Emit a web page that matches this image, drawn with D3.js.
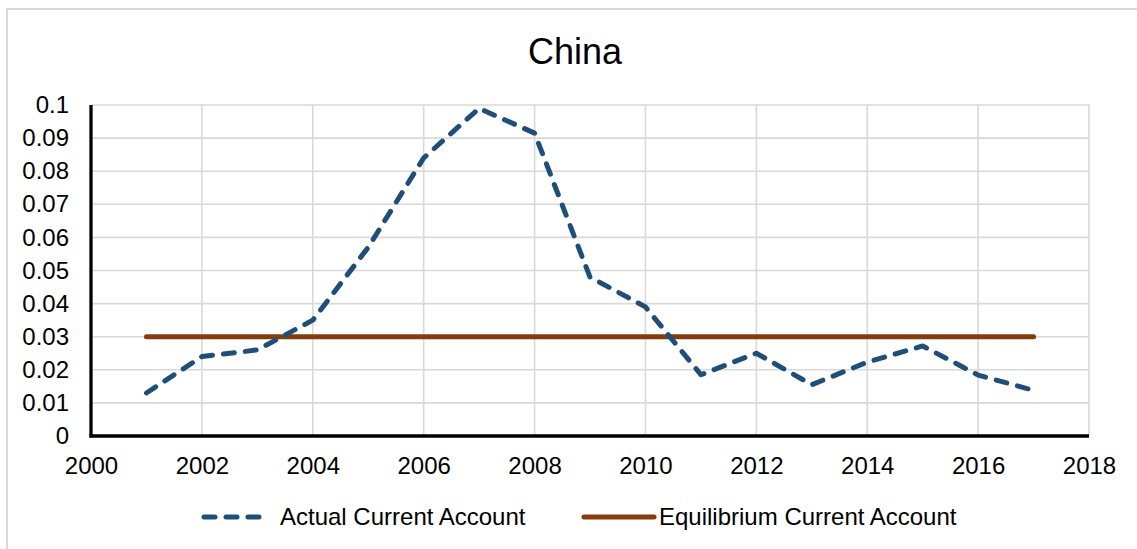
<!DOCTYPE html>
<html>
<head>
<meta charset="utf-8">
<script src="https://cdn.jsdelivr.net/npm/d3@7/dist/d3.min.js"></script>
<style>
  html, body { margin: 0; padding: 0; background: #fff; }
  svg { display: block; font-family: "Liberation Sans", Arial, sans-serif; }
</style>
</head>
<body>
<svg id="chart" width="1137" height="549"></svg>
<script>
// China: actual vs. equilibrium current account (share of GDP)
const years = [2001, 2002, 2003, 2004, 2005, 2006, 2007, 2008, 2009,
               2010, 2011, 2012, 2013, 2014, 2015, 2016, 2017];
const actualCA = [0.013, 0.024, 0.026, 0.035, 0.057, 0.084, 0.099, 0.0915, 0.048,
                  0.039, 0.0185, 0.025, 0.0155, 0.0223, 0.0272, 0.0184, 0.0138];
const equilibriumCA = [0.03, 0.03, 0.03, 0.03, 0.03, 0.03, 0.03, 0.03, 0.03,
                       0.03, 0.03, 0.03, 0.03, 0.03, 0.03, 0.03, 0.03];
const xTicks = [2000, 2002, 2004, 2006, 2008, 2010, 2012, 2014, 2016, 2018];
const yTicks = [0, 0.01, 0.02, 0.03, 0.04, 0.05, 0.06, 0.07, 0.08, 0.09, 0.1];
const seriesNames = ["Actual Current Account", "Equilibrium Current Account"];
const chartTitle = "China";

const svg = d3.select("#chart");
const blue = "#1f4e79", brown = "#843c0c", grid = "#d9d9d9";

// outer frame
svg.append("rect")
  .attr("x", 7).attr("y", 9).attr("width", 1300).attr("height", 700)
  .attr("fill", "none").attr("stroke", grid).attr("stroke-width", 2);

const x = d3.scaleLinear().domain([2000, 2018]).range([91, 1089]);
const y = d3.scaleLinear().domain([0, 0.1]).range([436, 105]);

// title
svg.append("text")
  .attr("x", 575).attr("y", 64)
  .attr("text-anchor", "middle")
  .attr("font-size", 36).attr("fill", "#000")
  .text(chartTitle);

// gridlines
svg.append("g").selectAll("line").data(yTicks.slice(1)).join("line")
  .attr("x1", x(2000)).attr("x2", x(2018))
  .attr("y1", d => y(d)).attr("y2", d => y(d))
  .attr("stroke", grid).attr("stroke-width", 1.6);
svg.append("g").selectAll("line").data(xTicks.slice(1)).join("line")
  .attr("x1", d => x(d)).attr("x2", d => x(d))
  .attr("y1", y(0)).attr("y2", y(0.1))
  .attr("stroke", grid).attr("stroke-width", 1.6);

// axes
const fmtY = d => d === 0 ? "0" : d3.format(".2~f")(d);
const yAxis = svg.append("g")
  .attr("transform", `translate(${x(2000)},0)`)
  .call(d3.axisLeft(y).tickValues(yTicks).tickFormat(fmtY).tickSize(0).tickPadding(22));
const xAxis = svg.append("g")
  .attr("transform", `translate(0,${y(0)})`)
  .call(d3.axisBottom(x).tickValues(xTicks).tickFormat(d3.format("d")).tickSize(0).tickPadding(21));

[yAxis, xAxis].forEach(g => {
  g.selectAll("text").attr("font-size", 24).attr("fill", "#000")
    .attr("font-family", "'Liberation Sans', Arial, sans-serif");
  g.select(".domain").remove();
});

svg.append("line")
  .attr("x1", x(2000)).attr("x2", x(2000))
  .attr("y1", y(0.1)).attr("y2", y(0) + 1.5)
  .attr("stroke", "#000").attr("stroke-width", 3.3);
svg.append("line")
  .attr("x1", x(2000) - 1.5).attr("x2", x(2018))
  .attr("y1", y(0)).attr("y2", y(0))
  .attr("stroke", "#000").attr("stroke-width", 3.3);

// series
const line = d3.line().x(d => x(d[0])).y(d => y(d[1]));

svg.append("path")
  .datum(years.map((yr, i) => [yr, equilibriumCA[i]]))
  .attr("d", line)
  .attr("fill", "none").attr("stroke", brown).attr("stroke-width", 5)
  .attr("stroke-linecap", "round");

svg.append("path")
  .datum(years.map((yr, i) => [yr, actualCA[i]]))
  .attr("d", line)
  .attr("fill", "none").attr("stroke", blue).attr("stroke-width", 5)
  .attr("stroke-linecap", "round").attr("stroke-linejoin", "round")
  .attr("stroke-dasharray", "11,11");

// legend
const legend = svg.append("g");
legend.append("line")
  .attr("x1", 204).attr("x2", 270).attr("y1", 517).attr("y2", 517)
  .attr("stroke", blue).attr("stroke-width", 5)
  .attr("stroke-linecap", "round").attr("stroke-dasharray", "11,11");
legend.append("text")
  .attr("x", 280).attr("y", 525).attr("font-size", 24).attr("fill", "#000")
  .text(seriesNames[0]);
legend.append("line")
  .attr("x1", 584).attr("x2", 654).attr("y1", 517).attr("y2", 517)
  .attr("stroke", brown).attr("stroke-width", 5).attr("stroke-linecap", "round");
legend.append("text")
  .attr("x", 659).attr("y", 525).attr("font-size", 24).attr("fill", "#000")
  .text(seriesNames[1]);
</script>
</body>
</html>
